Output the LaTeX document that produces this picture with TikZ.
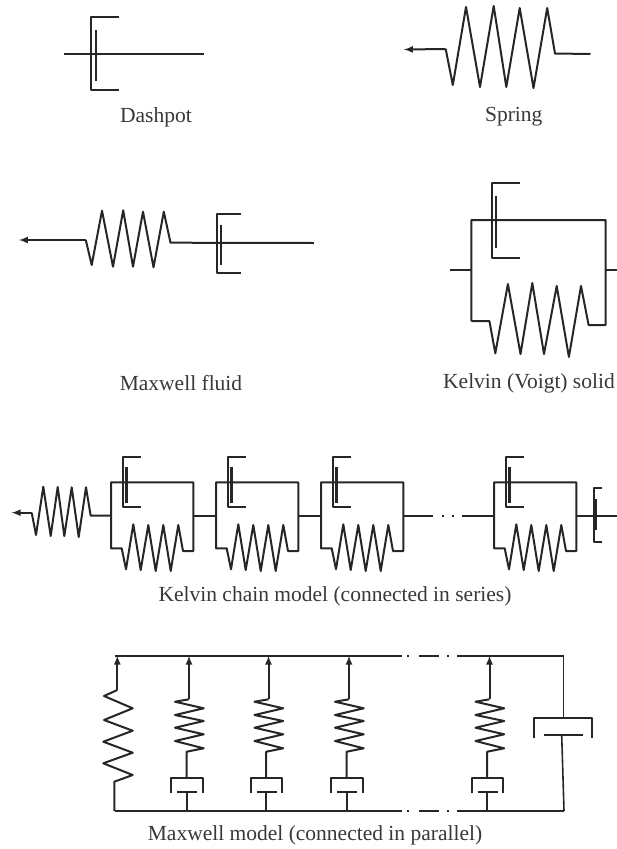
\documentclass[tikz,border=0pt]{standalone}
\usepackage{fontspec}
\setmainfont{Liberation Serif}
\tikzset{
  rheo/.style={line width=2pt,color=black!85,line join=round},
  rail/.style={rheo,line width=1.6pt},
  piston/.style={rheo,line width=3pt},
  rod/.style={rheo,-latex},
  caption/.style={color=black!78,font=\fontsize{21.5}{25}\selectfont,inner sep=0pt}
}
\begin{document}
\begin{tikzpicture}[x=1pt,y=-1pt]
    \useasboundingbox (0,0) rectangle (617,849);
    \draw[rheo](64,53.5)--(204,53.5);
    \draw[rheo](119.3,17)--(91.3,17)--(91.3,89.5)--(119.3,89.5);
    \draw[rheo](95.7,30)--(95.7,81);
    \node[caption](dashpotlabel) at (156,117){Dashpot};
    \draw[rod](445.7,49)--(404,49.5);
    \draw[rheo](445.7,49)--(452.8,85)--(466,7)--(480,87)--(493.7,6)--(506.3,87)--(519.7,8)--(533.5,88)--(547.2,8)--(555,53.5)--(590.5,54);
    \node[caption](springlabel) at (513.8,117){Spring};
    \draw[rod](85.8,240)--(19,240);
    \draw[rheo](85.8,240)--(91.7,265)--(102,210.7)--(113,266.7)--(123.2,210.3)--(133,266.7)--(143,211.7)--(153.5,267.3)--(163.8,211.7)--(170.5,242.7)--(313.8,243);
    \draw[rheo](241,214)--(217,214)--(217,272.7)--(241,272.7);
    \draw[rheo](220.5,225)--(220.5,265);
    \node[caption](maxwelllabel) at (181,383){Maxwell fluid};
    \draw[rail](450,270)--(471.3,270);
    \draw[rail](605.5,270)--(617,270);
    \draw[rheo](471.3,321)--(471.3,220)--(605.5,220)--(605.5,325)--(588.6,325)--(581,286)--(568.9,357)--(556.7,286)--(544,354)--(532.3,283)--(520.5,354)--(507.9,284)--(495.3,353.3)--(489.4,321)--(471.3,321);
    \draw[rheo](519.7,182.7)--(492,182.7)--(492,257.7)--(519.7,257.7);
    \draw[rheo](495.7,196)--(495.7,248.3);
    \node[caption](kelvinlabel) at (529,383){Kelvin (Voigt) solid};
    \draw[rod](31.7,512.7)--(11.7,512.7);
    \draw[rheo](31.7,512.7)--(36,535)--(43.3,486.7)--(50.7,536)--(57.7,487)--(64.3,536)--(71.7,487.3)--(78.7,537)--(86,487.3)--(90.7,515.7)--(111,515.7);
    \foreach \dx in {0,105,210,383}{
    \begin{scope}[shift={(\dx,0)}]
        \draw[rheo](111,548.3)--(111,482.3)--(193.3,482.3)--(193.3,551)--(183,551)--(178.3,525)--(170.7,571)--(163.3,525)--(155.7,571)--(148.3,525)--(140.7,570)--(133.3,524.3)--(126,569.3)--(121.7,548.3)--cycle;
        \draw[rheo](140.7,456.7)--(123.3,456.7)--(123.3,506.7)--(140.7,506.7);
        \draw[piston](126,466.7)--(126,503.3);
    \end{scope}}
    \draw[rail](193.3,515.7)--(216,515.7);
    \draw[rail](298.3,515.7)--(321,515.7);
    \draw[rail](403.3,515.7)--(433.3,515.7);
    \draw[rail](441.7,515.7)--(443.7,515.7);
    \draw[rail](451.7,515.7)--(453.7,515.7);
    \draw[rail](462.3,515.7)--(494,515.7);
    \draw[rail](576.7,515.7)--(617,515.7);
    \draw[rheo](601.7,488.3)--(594.3,488.3)--(594.3,541.7)--(601.7,541.7);
    \draw[rheo](596,499)--(596,530);
    \node[caption](chainlabel) at (335,596.7){Kelvin chain model (connected in series)};
    \foreach \y in {655.7,811}{
        \draw[rail](115,\y)--(401.7,\y);
        \draw[rail](407,\y)--(409,\y);
        \draw[rail](419.3,\y)--(439.3,\y);
        \draw[rail](447.3,\y)--(449.3,\y);
        \draw[rail](457.3,\y)--(564,\y);
    }
    \draw[rod](117.3,690)--(117.3,655.7);
    \draw[rheo](117.3,690)--(104,696)--(132.7,708.3)--(104,720)--(132.7,730.7)--(103.3,741.7)--(132.7,752.7)--(103.3,763.3)--(132.7,775)--(114.3,781.7)--(114.3,811);
    \foreach \dx in {0,79.5,160,300.5}{
    \begin{scope}[shift={(\dx,0)}]
        \draw[rod](189,699.3)--(189,655.7);
        \draw[rheo](189,699.3)--(175,701.7)--(203.7,708.3)--(175,715)--(203.7,721)--(175,727.7)--(203.7,734.3)--(175,741)--(203.7,748.3)--(186.7,751.7)--(186.7,778.3);
        \draw[rheo](171,793.3)--(171,778.3)--(202.7,778.3)--(202.7,793.3);
        \draw[rheo](177.3,791.7)--(197.3,791.7);
        \draw[rheo](186.7,791.7)--(186.7,811);
    \end{scope}}
    \draw[rail](563.3,655.7)--(563.3,718.3);
    \draw[rheo](534.3,738.3)--(534.3,718.3)--(591.7,718.3)--(591.7,738.3);
    \draw[rheo](544,735)--(583.3,735);
    \draw[rail](561.7,735)--(564,811);
    \node[caption](parallellabel) at (315,835){Maxwell model (connected in parallel)};
\end{tikzpicture}
\end{document}
